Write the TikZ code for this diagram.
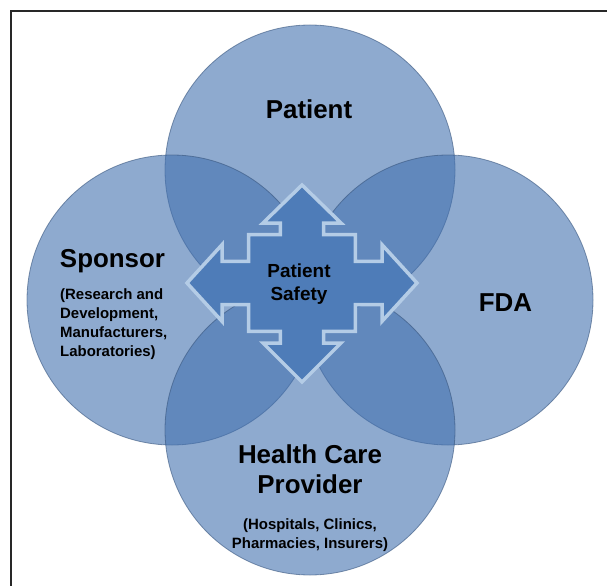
\documentclass[tikz,border=0pt]{standalone}
\usepackage{fontspec}
\setmainfont{Liberation Sans}
\definecolor{circfill}{RGB}{67,113,175}
\definecolor{circedge}{RGB}{55,85,125}
\definecolor{arrowfill}{RGB}{78,124,184}
\definecolor{arrowedge}{RGB}{180,204,230}
\definecolor{framecol}{RGB}{40,40,40}
\tikzset{
  circ/.style={circle, minimum size=290bp, inner sep=0pt, fill=circfill, fill opacity=0.6,
    draw=circedge, draw opacity=0.6, line width=0.8bp},
  bigtext/.style={font=\bfseries\fontsize{26}{30}\selectfont, align=center, inner sep=0pt, text=black},
  smalltext/.style={font=\bfseries\fontsize{15}{19}\selectfont, inner sep=0pt, text=black},
  centertext/.style={font=\bfseries\fontsize{19}{23}\selectfont, align=center, inner sep=0pt, text=black},
  crossarrow/.style={fill=arrowfill, draw=arrowedge, line width=3.5bp, line join=miter},
  framestyle/.style={draw=framecol, line width=1.5bp}
}
\begin{document}
\begin{tikzpicture}[x=1bp, y=-1bp]
\useasboundingbox (0,0) rectangle (607,586);
% frame (only top and left edges are visible)
\coordinate (frameBL) at (11,586);
\coordinate (frameTL) at (11,11);
\coordinate (frameTR) at (607,11);
\draw[framestyle] (frameBL) -- (frameTL) -- (frameTR);
% circles
\node[circ] (patient) at (310,170) {};
\node[circ] (sponsor) at (172,300) {};
\node[circ] (fda) at (448,300) {};
\node[circ] (provider) at (310,430) {};
% central four-way arrow
\begin{scope}[shift={(302,283)}]
\draw[crossarrow] (0,-98) -- (39,-60) -- (21.7,-60) -- (21.7,-48.3) -- (53.3,-48.3) -- (53.3,-21.7)
  -- (80,-21.7) -- (80,-38.3) -- (115,0) -- (80,38.3) -- (80,21.7) -- (53.3,21.7) -- (53.3,48.3)
  -- (21.7,48.3) -- (21.7,60) -- (39,60) -- (0,99) -- (-39,60) -- (-21.7,60) -- (-21.7,48.3)
  -- (-53.3,48.3) -- (-53.3,21.7) -- (-80,21.7) -- (-80,38.3) -- (-115,0) -- (-80,-38.3)
  -- (-80,-21.7) -- (-53.3,-21.7) -- (-53.3,-48.3) -- (-21.7,-48.3) -- (-21.7,-60) -- (-39,-60) -- cycle;
\end{scope}
% labels
\node[bigtext] (patientlabel) at (309,109) {Patient};
\node[bigtext] (sponsorlabel) at (112.5,261.5) {Sponsor};
\node[smalltext, align=left, anchor=west] (sponsordetail) at (60,324.5) {(Research and\\Development,\\Manufacturers,\\Laboratories)};
\node[bigtext] (fdalabel) at (505.5,303) {FDA};
\node[bigtext] (providerlabel) at (310,469) {Health Care\\Provider};
\node[smalltext, align=center] (providerdetail) at (310,535) {(Hospitals, Clinics,\\Pharmacies, Insurers)};
\node[centertext] (safety) at (299,284) {Patient\\Safety};
\end{tikzpicture}
\end{document}
